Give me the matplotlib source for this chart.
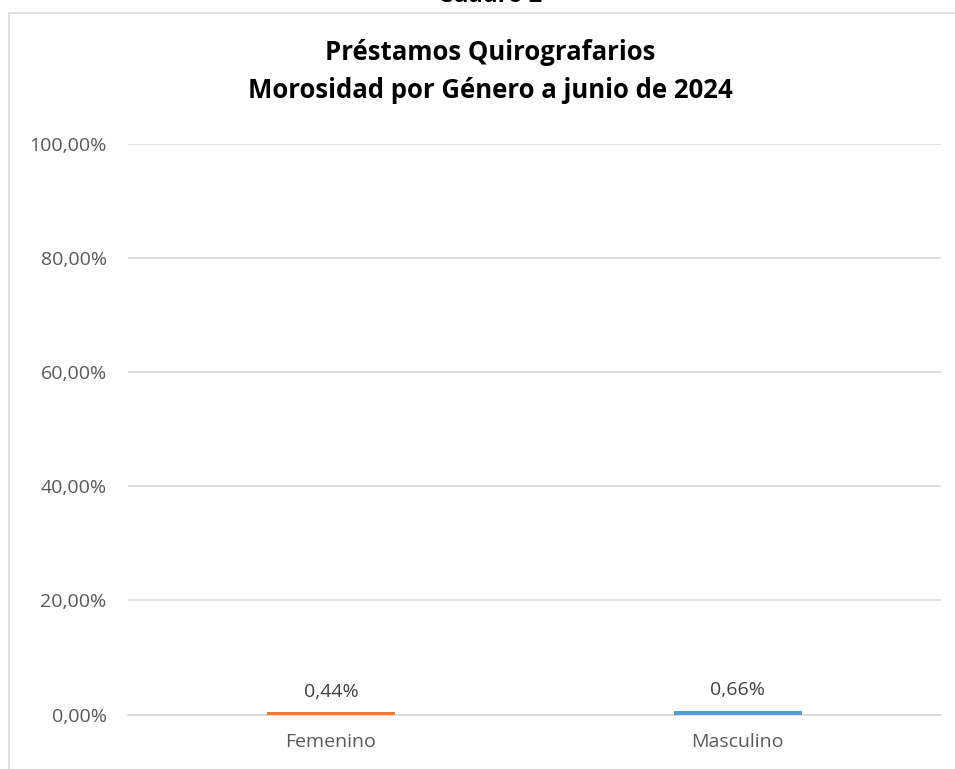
import matplotlib.pyplot as plt
from matplotlib.patches import Rectangle
from matplotlib.ticker import FuncFormatter

categories = ["Femenino", "Masculino"]
morosidad = [0.0044, 0.0066]
bar_colors = ["#ED7D31", "#5B9BD5"]
y_ticks = [0.0, 0.2, 0.4, 0.6, 0.8, 1.0]

plt.rcParams["font.family"] = ["Open Sans", "DejaVu Sans"]

W, H = 955, 769
fig = plt.figure(figsize=(W / 100, H / 100), dpi=100)

# chart frame (runs past the right and bottom edge of the picture)
fig.patches.append(Rectangle((9 / W, -0.1), 1.2, 1.1 - 13 / H, transform=fig.transFigure,
                             fill=False, edgecolor="#D9D9D9", linewidth=1.2, zorder=0))

fig.text(490 / W, 1 - 2.5 / H, "Cuadro 2", ha="center", va="baseline",
         fontsize=17, fontweight="bold", color="black")
fig.text(490 / W, 1 - 60.5 / H, "Préstamos Quirografarios", ha="center", va="baseline",
         fontsize=18.5, fontweight="bold", color="black")
fig.text(490 / W, 1 - 98 / H, "Morosidad por Género a junio de 2024", ha="center", va="baseline",
         fontsize=18.5, fontweight="bold", color="black")

ax = fig.add_axes([127.5 / W, 1 - 714.5 / H, (941 - 127.5) / W, (714.5 - 144) / H])
x = list(range(len(categories)))
bars = ax.bar(x, morosidad, width=0.315, color=bar_colors, zorder=3)

for xi, v in zip(x, morosidad):
    ax.annotate(f"{v * 100:.2f}%".replace(".", ","), (xi, v), xytext=(0, 11),
                textcoords="offset points", ha="center", va="baseline",
                fontsize=14, color="#404040")

ax.set_xlim(-0.5, 1.5)
ax.set_ylim(0, 1)
ax.set_yticks(y_ticks)
ax.yaxis.set_major_formatter(FuncFormatter(lambda v, p: f"{v * 100:.2f}%".replace(".", ",")))
ax.set_xticks(x)
ax.set_xticklabels(categories)
ax.tick_params(axis="y", length=0, pad=15, labelsize=14, labelcolor="#595959")
ax.tick_params(axis="x", length=0, pad=13, labelsize=14, labelcolor="#595959")
ax.grid(axis="y", color="#D9D9D9", linewidth=1.2, zorder=0)
for side in ["left", "right", "top"]:
    ax.spines[side].set_visible(False)
ax.spines["bottom"].set_color("#D9D9D9")
ax.spines["bottom"].set_linewidth(1.2)

fig.savefig("out.png", dpi=100)
